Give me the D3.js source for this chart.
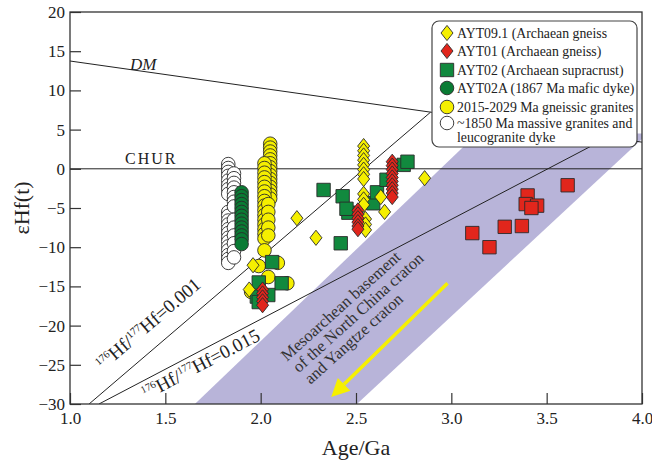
<!DOCTYPE html>
<html>
<head>
<meta charset="utf-8">
<script src="https://cdn.jsdelivr.net/npm/d3@7"></script>
<style>
  body { margin: 0; background: #fff; }
  svg text { font-family: "Liberation Serif", "Times New Roman", serif; fill: #222; }
</style>
</head>
<body>
<div id="chart"></div>
<script>
// ---- data: [age Ga, eHf(t)] ----
const yellowDiamonds = [
  [2.54, 2.9], [2.54, 2.3], [2.54, 1.7], [2.54, 1.1], [2.54, 0.5], [2.54, -0.1], [2.54, -0.7], [2.54, -1.3],
  [2.54, -3.2], [2.54, -3.9], [2.54, -4.6], [2.55, -6.4], [2.55, -7.1], [2.55, -7.8],
  [2.63, -3.6], [2.65, -5.5], [2.86, -1.2], [2.19, -6.3], [2.29, -8.8],
  [1.96, -12.3], [1.94, -15.4]
];
const redDiamonds = [
  [2.69, 0.9], [2.69, 0.4], [2.69, -0.1], [2.69, -0.6], [2.69, -1.1], [2.69, -1.6],
  [2.69, -2.1], [2.69, -2.6], [2.69, -3.1], [2.69, -3.6],
  [2.51, -5.3], [2.51, -5.8], [2.51, -6.3], [2.51, -6.8], [2.51, -7.3], [2.51, -7.7],
  [2.01, -15.4], [2.01, -15.9], [2.01, -16.4], [2.01, -16.9], [2.01, -17.4]
];
const greenSquares = [
  [2.33, -2.7], [2.43, -3.5], [2.46, -5.6], [2.42, -9.5], [2.59, -4.4], [2.61, -3.0],
  [2.66, -1.4], [2.75, 0.5], [2.77, 0.9], [2.45, -5.1],
  [2.06, -11.9], [1.99, -14.5], [2.11, -14.6], [1.98, -16.3], [2.04, -16.1], [1.99, -17.0]
];
const greenCircles = [
  [1.90, -3.0], [1.90, -3.5], [1.90, -4.0], [1.90, -4.5], [1.90, -5.0], [1.90, -5.5], [1.90, -6.0],
  [1.90, -6.5], [1.90, -7.0], [1.90, -7.5], [1.90, -8.0], [1.90, -8.5], [1.90, -9.0], [1.90, -9.6]
];
const yellowCircles = [
  [2.05, 3.2], [2.05, 2.7], [2.05, 2.2], [2.05, 1.7], [2.05, 1.2], [2.05, 0.7], [2.05, 0.2], [2.05, -0.3],
  [2.05, -0.8], [2.05, -1.3], [2.05, -1.8], [2.05, -2.3], [2.05, -2.8], [2.05, -3.3], [2.05, -3.8],
  [2.02, 0.7], [2.02, 0.1], [2.02, -0.5], [2.02, -1.1], [2.02, -1.7], [2.02, -2.3], [2.02, -2.9],
  [2.02, -3.5], [2.02, -4.1], [2.02, -4.7], [2.02, -5.3], [2.02, -5.9], [2.02, -6.5], [2.02, -7.1],
  [2.02, -7.7], [2.02, -8.3], [2.02, -8.9], [2.04, -4.5], [2.04, -5.5], [2.04, -6.5], [2.04, -7.5], [2.04, -8.5],
  [2.02, -10.4], [2.09, -12.0], [2.04, -13.8], [1.95, -15.7], [2.14, -14.6], [1.99, -12.4]
];
const whiteCircles = [
  [1.83, 0.6], [1.83, 0.1], [1.83, -0.4], [1.83, -0.9], [1.83, -1.5], [1.83, -2.1], [1.83, -2.6], [1.83, -3.2],
  [1.83, -5.5], [1.83, -6.0], [1.83, -6.6], [1.83, -7.1], [1.83, -7.7], [1.83, -8.2], [1.83, -8.8],
  [1.83, -9.3], [1.83, -9.9], [1.83, -10.4], [1.83, -11.0], [1.83, -11.5], [1.83, -12.0],
  [1.86, -0.6], [1.86, -1.2], [1.86, -1.8], [1.86, -2.4], [1.86, -3.0], [1.86, -3.6], [1.86, -4.2], [1.86, -4.8],
  [1.86, -6.5], [1.86, -7.5], [1.86, -8.5], [1.86, -9.5], [1.86, -10.5], [1.86, -11.3]
];
const redSquares = [
  [3.61, -2.1], [3.40, -3.4], [3.39, -4.5], [3.45, -4.7], [3.42, -5.0],
  [3.28, -7.4], [3.37, -7.3], [3.11, -8.2], [3.20, -10.0]
];

// reference curves and field
const dmLine = [[1.0, 13.75], [4.0, 3.4]];
const churLine = [[1.0, 0], [4.0, 0]];
const line001 = [[1.10, -30], [2.89, 7.2]];
const line015 = [[1.152, -30], [3.82, 4.0]];
const basementField = [[1.655, -30], [2.505, -30], [4.0, 3.8], [4.0, 4.5], [3.136, 4.5]];
const arrowLine = [[2.98, -14.6], [2.37, -29.1]];

const xTicks = [1.0, 1.5, 2.0, 2.5, 3.0, 3.5, 4.0];
const yTicks = [20, 15, 10, 5, 0, -5, -10, -15, -20, -25, -30];

const legendLabels = [
  "AYT09.1 (Archaean gneiss",
  "AYT01 (Archaean gneiss)",
  "AYT02 (Archaean supracrust)",
  "AYT02A (1867 Ma mafic dyke)",
  "2015-2029 Ma gneissic granites",
  "~1850 Ma massive granites and"
];
const fieldLabel = ["Mesoarchean basement", "of the North China craton", "and Yangtze craton"];

// ---- chart ----
const width = 652, height = 466;
const margin = {top: 12, right: 10, bottom: 62, left: 70};
const YEL = "#f5ef00", RED = "#e1261c", GRN = "#11893e", GRNC = "#0a7b34";
const SERIF = '"Liberation Serif", "Times New Roman", serif';

const x = d3.scaleLinear().domain([1, 4]).range([margin.left, width - margin.right]);
const y = d3.scaleLinear().domain([-30, 20]).range([height - margin.bottom, margin.top]);

const svg = d3.select("#chart").append("svg")
  .attr("width", width).attr("height", height);

svg.append("clipPath").attr("id", "plot")
  .append("rect")
  .attr("x", x(1)).attr("y", y(20))
  .attr("width", x(4) - x(1)).attr("height", y(-30) - y(20));

const plot = svg.append("g").attr("clip-path", "url(#plot)");
const line = d3.line().x(d => x(d[0])).y(d => y(d[1]));

plot.append("path").datum(basementField)
  .attr("d", d => line(d) + "Z")
  .attr("fill", "#b8b4d9");

[dmLine, churLine, line001, line015].forEach(l => {
  plot.append("path").datum(l).attr("d", line)
    .attr("fill", "none").attr("stroke", "#222").attr("stroke-width", 1);
});

// yellow arrow
const a0 = [x(arrowLine[0][0]), y(arrowLine[0][1])];
const a1 = [x(arrowLine[1][0]), y(arrowLine[1][1])];
const ang = Math.atan2(a1[1] - a0[1], a1[0] - a0[0]);
const headL = 18, headW = 9;
const base = [a1[0] - headL * Math.cos(ang), a1[1] - headL * Math.sin(ang)];
plot.append("line")
  .attr("x1", a0[0]).attr("y1", a0[1]).attr("x2", base[0]).attr("y2", base[1])
  .attr("stroke", "#f6f000").attr("stroke-width", 3.5);
plot.append("path")
  .attr("d", `M${a1[0]},${a1[1]}L${base[0] + headW * Math.sin(ang)},${base[1] - headW * Math.cos(ang)}L${base[0] - headW * Math.sin(ang)},${base[1] + headW * Math.cos(ang)}Z`)
  .attr("fill", "#f6f000");

// field label
const fl = svg.append("text")
  .attr("transform", `translate(${x(2.138)},${y(-24.6)}) rotate(-42)`)
  .attr("font-size", 16.5).style("fill", "#333");
fieldLabel.forEach((s, i) => fl.append("tspan").attr("x", i * 1).attr("y", i * 16.5).text(s));

// curve labels
svg.append("text").attr("x", 130).attr("y", 70)
  .attr("font-size", 17).attr("font-style", "italic").text("DM");
svg.append("text").attr("x", 125).attr("y", 164)
  .attr("font-size", 16).style("letter-spacing", "2px").text("CHUR");

function ratioLabel(val, px, py, angle) {
  const t = svg.append("text")
    .attr("transform", `translate(${px},${py}) rotate(${angle})`)
    .attr("font-size", 19);
  t.append("tspan").attr("font-size", 10.5).attr("dy", -7).text("176");
  t.append("tspan").attr("dy", 7).text("Hf/");
  t.append("tspan").attr("font-size", 10.5).attr("dy", -7).text("177");
  t.append("tspan").attr("dy", 7).text("Hf=" + val);
}
const ang001 = Math.atan2(y(line001[1][1]) - y(line001[0][1]), x(line001[1][0]) - x(line001[0][0])) * 180 / Math.PI;
const ang015 = Math.atan2(y(line015[1][1]) - y(line015[0][1]), x(line015[1][0]) - x(line015[0][0])) * 180 / Math.PI;
ratioLabel("0.001", 103, 371, ang001);
ratioLabel("0.015", 146, 400, ang015);

// axes (inward ticks)
const xAxis = g => g
  .attr("transform", `translate(0,${y(-30)})`)
  .call(d3.axisBottom(x).tickValues(xTicks).tickFormat(d3.format(".1f")).tickSize(-11).tickPadding(8))
  .call(g => g.select(".domain").remove());
const yAxis = g => g
  .attr("transform", `translate(${x(1)},0)`)
  .call(d3.axisLeft(y).tickValues(yTicks).tickSize(-11).tickPadding(5))
  .call(g => g.select(".domain").remove());

svg.append("g").call(xAxis).attr("font-family", SERIF).attr("font-size", 17);
svg.append("g").call(yAxis).attr("font-family", SERIF).attr("font-size", 17);
svg.selectAll(".tick line").attr("stroke", "#333").attr("stroke-width", 1.2);
svg.selectAll(".tick text").attr("font-family", SERIF).style("font-size", "17px").style("fill", "#222");

svg.append("rect")
  .attr("x", x(1)).attr("y", y(20))
  .attr("width", x(4) - x(1)).attr("height", y(-30) - y(20))
  .attr("fill", "none").attr("stroke", "#333").attr("stroke-width", 1.3);

svg.append("text").attr("x", (x(1) + x(4)) / 2).attr("y", 455)
  .attr("text-anchor", "middle").attr("font-size", 22).text("Age/Ga");
svg.append("text").attr("transform", `translate(29,${y(-5)}) rotate(-90)`)
  .attr("text-anchor", "middle").attr("font-size", 22).text("εHf(t)");

// ---- markers ----
const sym = {
  diamond: "M0,-7.6L6,0L0,7.6L-6,0Z",
  square: "M-6.7,-6.7H6.7V6.7H-6.7Z",
  circle: d3.symbol(d3.symbolCircle, 145)()
};
function drawSet(data, shape, fill) {
  plot.append("g").selectAll("path").data(data).join("path")
    .attr("transform", d => `translate(${x(d[0])},${y(d[1])})`)
    .attr("d", sym[shape])
    .attr("fill", fill).attr("stroke", "#2a2a2a").attr("stroke-width", 0.9);
}
drawSet(whiteCircles, "circle", "#fff");
drawSet(yellowCircles, "circle", YEL);
drawSet(greenCircles, "circle", GRNC);
drawSet(greenSquares, "square", GRN);
drawSet(yellowDiamonds, "diamond", YEL);
drawSet(redDiamonds, "diamond", RED);
drawSet(redSquares, "square", RED);

// ---- legend ----
const lg = svg.append("g");
lg.append("rect").attr("x", 432).attr("y", 21).attr("width", 205).attr("height", 126)
  .attr("rx", 7).attr("fill", "#fff").attr("stroke", "#444").attr("stroke-width", 1.2);
const legendShapes = [["diamond", YEL], ["diamond", RED], ["square", GRN], ["circle", GRNC], ["circle", YEL], ["circle", "#fff"]];
const legendY = [33, 51, 70, 88, 107, 123];
legendShapes.forEach((s, i) => {
  lg.append("path").attr("transform", `translate(447,${legendY[i]})`)
    .attr("d", sym[s[0]]).attr("fill", s[1]).attr("stroke", "#2a2a2a").attr("stroke-width", 0.9);
  lg.append("text").attr("x", 457).attr("y", legendY[i] + 4.5)
    .attr("font-size", 13.8).text(legendLabels[i]);
});
lg.append("text").attr("x", 457).attr("y", 142).attr("font-size", 13.8).text("leucogranite dyke");
</script>
</body>
</html>
